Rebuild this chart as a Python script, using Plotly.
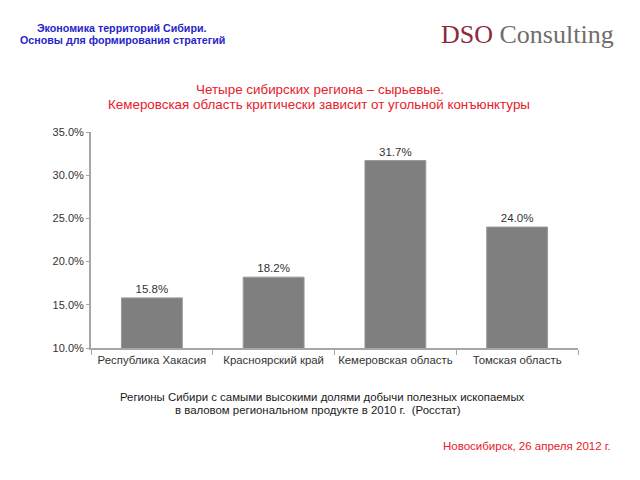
import plotly.graph_objects as go

regions = ["Республика Хакасия", "Красноярский край", "Кемеровская область", "Томская область"]
shares = [15.8, 18.2, 31.7, 24.0]
labels = ["15.8%", "18.2%", "31.7%", "24.0%"]

W, H = 640, 480
OFF = 8  # page body margin
L, R, T, B = 83, 70, 124, 140

fig = go.Figure()
fig.add_trace(go.Bar(
    x=regions, y=shares, text=labels, textposition="outside",
    textfont=dict(family="Liberation Sans, Arial", size=11.5, color="#333333"),
    marker=dict(color="#7f7f7f", line=dict(color="#9a9a9a", width=1)),
    width=0.5, cliponaxis=False,
))

fig.update_layout(
    width=W, height=H,
    margin=dict(l=L, r=R, t=T, b=B),
    paper_bgcolor="white", plot_bgcolor="white",
    showlegend=False,
    font=dict(family="Liberation Sans, Arial", size=11.5, color="#333333"),
    xaxis=dict(
        showline=True, linecolor="#a6a6a6", linewidth=2,
        ticks="outside", tickson="boundaries", ticklen=5, tickcolor="#a6a6a6",
        tickfont=dict(size=11.4, color="#333333"), tickangle=0,
        showgrid=False,
    ),
    yaxis=dict(
        range=[10, 35], dtick=5, tickformat=".1f", ticksuffix="%",
        showline=True, linecolor="#a6a6a6", linewidth=2,
        ticks="outside", ticklen=3, tickcolor="#a6a6a6",
        tickfont=dict(size=11, color="#333333"),
        showgrid=False, zeroline=False,
    ),
)

SANS = "Liberation Sans, Arial"
ann = [
    ("<b>Экономика территорий Сибири.</b>", 122, 28, 10.7, "#2626c8", SANS),
    ("<b>Основы для формирования стратегий</b>", 122, 40, 10.7, "#2626c8", SANS),
    ("<span style='color:#8c2a3a'>DSO</span> <span style='color:#6e6e6e'>Consulting</span>",
     527, 34, 26, "#6e6e6e", "Liberation Serif, Times New Roman"),
    ("Четыре сибирских региона – сырьевые.", 320, 89, 13.4, "#e8202a", SANS),
    ("Кемеровская область критически зависит от угольной конъюнктуры", 319, 104, 13.4, "#e8202a", SANS),
    ("Регионы Сибири с самыми высокими долями добычи полезных ископаемых", 322, 397, 11.4, "#1a1a1a", SANS),
    ("в валовом региональном продукте в 2010 г.  (Росстат)", 318, 410, 11.4, "#1a1a1a", SANS),
    ("Новосибирск, 26 апреля 2012 г.", 527, 446, 11.5, "#e8202a", SANS),
]
pw = W - L - R
ph = H - T - B
for text, px, py, size, color, fam in ann:
    fx = px - OFF
    fy = py - OFF
    fig.add_annotation(
        text=text, xref="paper", yref="paper",
        x=(fx - L) / pw, y=1 - (fy - T) / ph,
        xanchor="center", yanchor="middle", showarrow=False,
        font=dict(family=fam, size=size, color=color),
        align="center",
    )

fig.write_html("out.html")
